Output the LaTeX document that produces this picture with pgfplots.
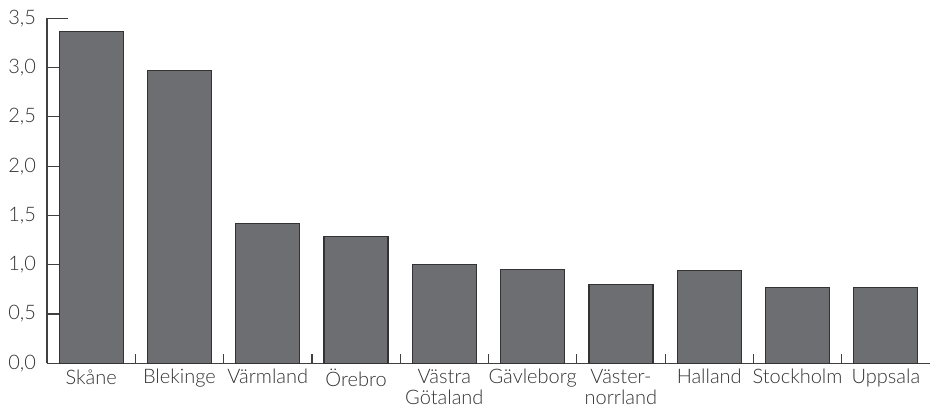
\documentclass[border=0pt]{standalone}
\usepackage{fontspec}
\setmainfont{Lato Light}
\usepackage{pgfplots}
\pgfplotsset{compat=1.18}
\definecolor{barfill}{HTML}{6D6E71}
\definecolor{barline}{HTML}{333333}
\definecolor{axisc}{HTML}{404040}
\definecolor{textc}{HTML}{333333}
\begin{document}
\begin{tikzpicture}
\useasboundingbox (-23.5pt,-24.35pt) rectangle (441.5pt,181.65pt);
\begin{axis}[
  scale only axis,
  width=441.5pt, height=172.5pt,
  xmin=-0.5, xmax=9.5,
  ymin=0, ymax=3.5,
  axis lines=left,
  axis line style={-, axisc, line width=0.7pt},
  ybar, bar width=32pt,
  xtick={0,...,9},
  xticklabels={Skåne,Blekinge,Värmland,Örebro,{Västra\\Götaland},Gävleborg,{Väster-\\norrland},Halland,Stockholm,Uppsala},
  minor xtick={0.5,1.5,2.5,3.5,4.5,5.5,6.5,7.5,8.5},
  every major x tick/.append style={draw=none},
  every minor x tick/.append style={axisc, line width=0.6pt},
  every major y tick/.append style={axisc, line width=0.6pt},
  minor tick length=4.5pt,
  major tick length=6pt,
  tick align=inside,
  ytick={0,0.5,...,3.5},
  yticklabel style={/pgf/number format/use comma, /pgf/number format/fixed, /pgf/number format/fixed zerofill, /pgf/number format/precision=1, /pgf/number format/assume math mode=true},
  yticklabel style={font=\fontsize{10}{11}\selectfont, text=textc, xshift=-2pt},
  xticklabel style={font=\fontsize{10}{10.5}\selectfont, text=textc, align=center, anchor=north, yshift=0.5pt},
  clip=false,
]
\addplot[fill=barfill, draw=barline, line width=0.6pt] coordinates {
  (0,3.37) (1,2.97) (2,1.42) (3,1.29) (4,1.00) (5,0.95) (6,0.80) (7,0.94) (8,0.77) (9,0.77)
};
\draw[axisc, line width=0.6pt] (axis cs:-0.5,3.5) -- ([xshift=10.5pt]axis cs:-0.5,3.5);
\end{axis}
\end{tikzpicture}
\end{document}
